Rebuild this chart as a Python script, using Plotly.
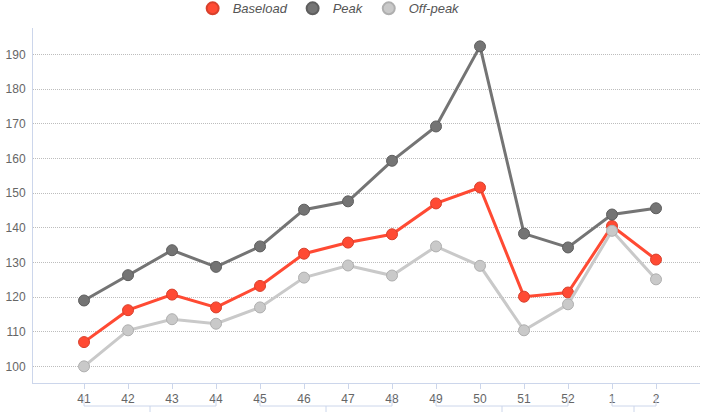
import plotly.graph_objects as go

weeks = ["41", "42", "43", "44", "45", "46", "47", "48", "49", "50", "51", "52", "1", "2"]
baseload = [107.0, 116.2, 120.7, 117.0, 123.2, 132.5, 135.7, 138.1, 147.0, 151.6, 120.1, 121.3, 140.5, 130.8]
peak = [119.0, 126.3, 133.5, 128.7, 134.6, 145.2, 147.6, 159.3, 169.2, 192.3, 138.3, 134.3, 143.8, 145.6]
offpeak = [100.0, 110.4, 113.6, 112.3, 117.0, 125.6, 129.1, 126.2, 134.6, 129.0, 110.4, 117.9, 139.1, 125.1]
groups = [(0, 3), (4, 7), (8, 11), (12, 13)]  # index ranges of grouped categories

series = [
    ("Baseload", baseload, "#ff4a33", "#d8402c"),
    ("Peak", peak, "#747474", "#5e5e5e"),
    ("Off-peak", offpeak, "#c9c9c9", "#afafaf"),
]

xs = list(range(len(weeks)))
fig = go.Figure()
for name, vals, col, edge in series:
    fig.add_trace(go.Scatter(
        x=xs, y=vals, mode="lines+markers", name=name, showlegend=False,
        line=dict(color=col, width=3),
        marker=dict(size=11, color=col, line=dict(color=edge, width=1)),
    ))
for name, vals, col, edge in series:
    fig.add_trace(go.Scatter(
        x=[None], y=[None], mode="markers", name=name,
        marker=dict(size=14, color=col, line=dict(color=edge, width=1)),
    ))

axis_col = "#ccd6eb"
shapes = []
for a, b in groups:
    common = dict(type="line", xref="x", yref="paper", ysizemode="pixel", yanchor=0,
                  line=dict(color=axis_col, width=1))
    shapes.append(dict(common, x0=a, x1=b, y0=-23, y1=-23))
    shapes.append(dict(common, x0=a, x1=a, y0=-13, y1=-23))
    shapes.append(dict(common, x0=b, x1=b, y0=-13, y1=-23))
    m = (a + b) / 2
    shapes.append(dict(common, x0=m, x1=m, y0=-23, y1=-32))

fig.update_layout(
    width=702, height=412,
    margin=dict(l=33, r=2, t=28, b=29, autoexpand=False),
    paper_bgcolor="white", plot_bgcolor="white",
    font=dict(family="Liberation Sans, Arial, sans-serif", size=12, color="#666666"),
    showlegend=True,
    legend=dict(orientation="h", x=0.444, xanchor="center", xref="paper",
                y=1.0975, yanchor="top", yref="paper",
                font=dict(size=13, color="#555555", style="italic"),
                itemsizing="constant", tracegroupgap=0, bgcolor="rgba(0,0,0,0)"),
    shapes=shapes,
    xaxis=dict(range=[-1.16, 14.0], tickvals=xs, ticktext=weeks, showgrid=False,
               showline=True, linecolor=axis_col, linewidth=1, automargin=False,
               ticks="outside", ticklen=5, tickcolor=axis_col, zeroline=False,
               tickfont=dict(size=12, color="#666666"), fixedrange=True),
    yaxis=dict(range=[95.2, 197.6], tickvals=list(range(100, 200, 10)), automargin=False,
               showgrid=True, gridcolor="#bdbdbd", griddash="1px,1px", gridwidth=1,
               showline=True, linecolor=axis_col, linewidth=1, zeroline=False,
               ticks="", tickfont=dict(size=12, color="#666666"), ticklabelstandoff=4),
)
fig.write_html("out.html", config={"displayModeBar": False},
               post_script="document.body.style.margin='0px';")
